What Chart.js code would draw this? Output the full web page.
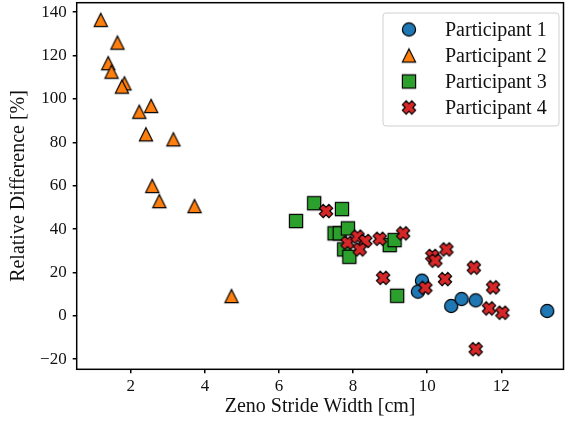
<!DOCTYPE html>
<html><head><meta charset="utf-8">
<script src="https://cdn.jsdelivr.net/npm/chart.js@4/dist/chart.umd.min.js"></script>
<style>html,body{margin:0;padding:0;background:#fff}#wrap{width:565px;height:427px;position:relative}</style>
</head><body><div id="wrap"><canvas id="c" width="565" height="427"></canvas></div>
<script>
const seriesNames = ['Participant 1', 'Participant 2', 'Participant 3', 'Participant 4'];
const p1X = [9.86, 9.75, 10.65, 10.93, 11.31, 13.24];
const p1Y = [16.2, 11.1, 4.5, 7.7, 7.1, 2.2];
const p2X = [1.19, 1.64, 1.39, 1.48, 1.83, 1.76, 2.23, 2.55, 2.41, 3.15, 2.58, 2.77, 3.72, 4.72];
const p2Y = [136.5, 126.0, 116.5, 112.6, 107.2, 105.7, 94.1, 96.8, 83.7, 81.4, 59.9, 52.9, 50.6, 9.1];
const p3X = [6.46, 6.95, 7.70, 7.50, 7.64, 7.86, 7.76, 7.90, 8.99, 9.12, 9.19];
const p3Y = [43.7, 51.9, 49.2, 38.0, 38.0, 40.3, 30.6, 27.2, 32.6, 34.9, 9.2];
const p4X = [7.27, 7.85, 8.12, 8.33, 8.18, 8.72, 9.35, 8.81, 10.14, 10.22, 10.52, 9.95, 10.48, 11.26, 11.78, 11.67, 12.03, 11.31];
const p4Y = [48.3, 33.7, 36.5, 34.5, 30.6, 35.5, 38.0, 17.5, 27.6, 25.4, 30.6, 12.9, 16.9, 22.2, 13.1, 3.4, 1.4, -15.4];
const xTicks = [2, 4, 6, 8, 10, 12];
const yTicks = [-20, 0, 20, 40, 60, 80, 100, 120, 140];
const xLabel = 'Zeno Stride Width [cm]';
const yLabel = 'Relative Difference [%]';
const colors = ['#1f77b4', '#ff7f0e', '#2ca02c', '#d62728'];
const kinds = ['circle', 'triangle', 'square', 'x'];

function marker(kind, fill) {
  const s = 20, c = document.createElement('canvas');
  c.width = s; c.height = s;
  const g = c.getContext('2d'), m = s / 2;
  g.fillStyle = fill; g.strokeStyle = '#000'; g.lineWidth = 1.2; g.lineJoin = 'miter';
  g.beginPath();
  if (kind === 'circle') { g.arc(m, m, 6.6, 0, Math.PI * 2); }
  else if (kind === 'square') { g.rect(m - 6.6, m - 6.6, 13.2, 13.2); }
  else if (kind === 'triangle') { const h = 6.6; g.moveTo(m, m - h); g.lineTo(m + h, m + h); g.lineTo(m - h, m + h); g.closePath(); }
  else {
    const pts = [[-1,-0.4],[-1,0.4],[-0.4,0.4],[-0.4,1],[0.4,1],[0.4,0.4],[1,0.4],[1,-0.4],[0.4,-0.4],[0.4,-1],[-0.4,-1],[-0.4,-0.4]];
    const k = 6.7, a = Math.PI / 4;
    pts.forEach((p, i) => {
      const x = (p[0] * Math.cos(a) - p[1] * Math.sin(a)) * k + m;
      const y = (p[0] * Math.sin(a) + p[1] * Math.cos(a)) * k + m;
      i ? g.lineTo(x, y) : g.moveTo(x, y);
    });
    g.closePath();
  }
  g.fill(); g.stroke();
  return c;
}
const markers = kinds.map((k, i) => marker(k, colors[i]));
const allX = [p1X, p2X, p3X, p4X], allY = [p1Y, p2Y, p3Y, p4Y];
const datasets = seriesNames.map((name, i) => ({
  label: name,
  data: allX[i].map((x, j) => ({ x: x, y: allY[i][j] })),
  pointStyle: markers[i],
  pointRadius: 7,
  showLine: false,
  order: 4 - i
}));

const AREA = { left: 76.7, top: 2.7, right: 563.5, bottom: 369.3 };
const serif = '"Liberation Serif", "Times New Roman", serif';
const fixArea = {
  id: 'fixArea',
  afterLayout(chart) {
    const a = chart.chartArea;
    a.left = AREA.left; a.top = AREA.top; a.right = AREA.right; a.bottom = AREA.bottom;
    a.width = AREA.right - AREA.left; a.height = AREA.bottom - AREA.top;
    const xs = chart.scales.x, ys = chart.scales.y;
    xs.left = AREA.left; xs.right = AREA.right; xs.width = a.width;
    xs.top = AREA.bottom; xs.bottom = chart.height; xs.height = chart.height - AREA.bottom;
    ys.left = 0; ys.right = AREA.left; ys.width = AREA.left;
    ys.top = AREA.top; ys.bottom = AREA.bottom; ys.height = a.height;
    xs.configure(); ys.configure();
  }
};
const frame = {
  id: 'frame',
  afterDraw(chart) {
    const ctx = chart.ctx, a = chart.chartArea;
    ctx.save();
    ctx.strokeStyle = '#000'; ctx.lineWidth = 1.5;
    ctx.strokeRect(a.left, a.top, a.right - a.left, a.bottom - a.top);
    ctx.fillStyle = '#111';
    ctx.font = '20px ' + serif;
    ctx.textAlign = 'center'; ctx.textBaseline = 'middle';
    ctx.fillText(xLabel, (a.left + a.right) / 2, 407);
    ctx.translate(19, (a.top + a.bottom) / 2);
    ctx.rotate(-Math.PI / 2);
    ctx.fillText(yLabel, 0, 0);
    ctx.restore();
    // legend
    ctx.save();
    const bx = 383, by = 13, bw = 176, bh = 113;
    ctx.beginPath();
    ctx.roundRect(bx, by, bw, bh, 3);
    ctx.fillStyle = 'rgba(255,255,255,0.8)'; ctx.fill();
    ctx.strokeStyle = '#d0d0d0'; ctx.lineWidth = 1; ctx.stroke();
    ctx.font = '20px ' + serif; ctx.fillStyle = '#111';
    ctx.textAlign = 'left'; ctx.textBaseline = 'middle';
    seriesNames.forEach((n, i) => {
      const y = 29.5 + i * 26;
      ctx.drawImage(markers[i], 409 - 10, y - 10);
      ctx.fillText(n, 445, y + 1);
    });
    ctx.restore();
  }
};

new Chart(document.getElementById('c'), {
  type: 'scatter',
  data: { datasets },
  options: {
    responsive: false, animation: false,
    layout: { padding: { top: 2.7, right: 2, left: 0, bottom: 0 } },
    plugins: { legend: { display: false }, tooltip: { enabled: false } },
    scales: {
      x: {
        type: 'linear', min: 0.54, max: 13.68,
        afterBuildTicks: s => { s.ticks = xTicks.map(v => ({ value: v })); },
        afterFit: s => { s.height = 57.7; s.paddingLeft = 0; s.paddingRight = 0; },
        ticks: { font: { family: serif, size: 17 }, color: '#111', padding: 3, maxRotation: 0, autoSkip: false },
        grid: { drawOnChartArea: false, drawTicks: true, tickLength: 4, color: '#000', lineWidth: 1.5 },
        border: { display: false }
      },
      y: {
        type: 'linear', min: -24.7, max: 144.4,
        afterBuildTicks: s => { s.ticks = yTicks.map(v => ({ value: v })); },
        afterFit: s => { s.width = 76.7; s.paddingTop = 0; s.paddingBottom = 0; },
        ticks: { font: { family: serif, size: 17 }, color: '#111', padding: 6, autoSkip: false,
          callback: v => String(v).replace('-', '\u2212') },
        grid: { drawOnChartArea: false, drawTicks: true, tickLength: 4, color: '#000', lineWidth: 1.5 },
        border: { display: false }
      }
    }
  },
  plugins: [fixArea, frame]
});
</script></body></html>
